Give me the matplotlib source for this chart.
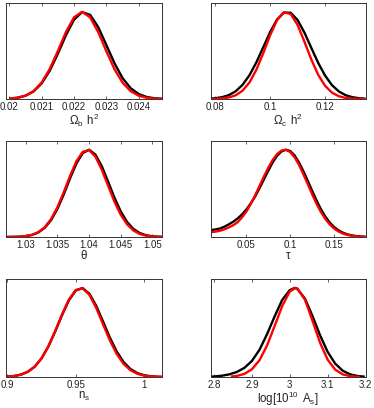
import matplotlib
matplotlib.use("Agg")
import matplotlib.pyplot as plt

plt.rcParams['font.family'] = ['Liberation Sans', 'DejaVu Sans']
plt.rcParams['mathtext.fontset'] = 'custom'
plt.rcParams['mathtext.rm'] = 'Liberation Sans'
plt.rcParams['mathtext.it'] = 'Liberation Sans'
plt.rcParams['mathtext.bf'] = 'Liberation Sans:bold'

# ---------------- data ----------------
# Omega_b h^2
omb_x = [0.02000, 0.02025, 0.02050, 0.02075, 0.02100, 0.02125, 0.02150, 0.02175, 0.02200, 0.02225,
         0.02250, 0.02275, 0.02300, 0.02325, 0.02350, 0.02375, 0.02400, 0.02425, 0.02450, 0.02474]
omb_black = [0.0047, 0.0140, 0.037, 0.086, 0.178, 0.323, 0.517, 0.730, 0.908, 0.996,
             0.964, 0.823, 0.619, 0.411, 0.240, 0.124, 0.0565, 0.0227, 0.0080, 0.0026]
omb_red = [0.0045, 0.0139, 0.038, 0.090, 0.188, 0.343, 0.548, 0.766, 0.935, 1.000,
           0.935, 0.766, 0.548, 0.343, 0.188, 0.090, 0.038, 0.0139, 0.0045, 0.0020]

# Omega_c h^2
omc_x = [0.0785, 0.0800, 0.0825, 0.0850, 0.0875, 0.0900, 0.0925, 0.0950, 0.0975, 0.1000, 0.1025, 0.1050,
         0.1075, 0.1100, 0.1125, 0.1150, 0.1175, 0.1200, 0.1225, 0.1250, 0.1275, 0.1300, 0.1325, 0.1347]
omc_black = [0.0049, 0.0087, 0.0205, 0.0446, 0.0889, 0.163, 0.273, 0.420, 0.592, 0.766, 0.910, 0.990,
             0.988, 0.905, 0.760, 0.585, 0.413, 0.268, 0.159, 0.0866, 0.0433, 0.0198, 0.0083, 0.0036]
omc_red = [0.0009, 0.0019, 0.0061, 0.0173, 0.043, 0.096, 0.190, 0.335, 0.524, 0.729, 0.903, 0.994,
           0.973, 0.848, 0.656, 0.452, 0.277, 0.151, 0.073, 0.0315, 0.0121, 0.0041, 0.0012, 0.0004]

# theta
th_x = [1.0270, 1.0280, 1.0290, 1.0300, 1.0310, 1.0320, 1.0330, 1.0340, 1.0350, 1.0360, 1.0370, 1.0380, 1.0390,
        1.0400, 1.0410, 1.0420, 1.0430, 1.0440, 1.0450, 1.0460, 1.0470, 1.0480, 1.0490, 1.0500, 1.0510, 1.0515]
th_black = [0.0004, 0.0012, 0.0036, 0.0097, 0.0235, 0.0521, 0.105, 0.192, 0.321, 0.487, 0.672, 0.843, 0.962,
            1.000, 0.944, 0.812, 0.634, 0.451, 0.292, 0.172, 0.0919, 0.0448, 0.0198, 0.0080, 0.0029, 0.0017]
th_red = [0.0004, 0.0013, 0.0037, 0.0101, 0.0248, 0.0553, 0.1117, 0.2047, 0.340, 0.513, 0.700, 0.868, 0.976,
          0.996, 0.921, 0.772, 0.588, 0.405, 0.254, 0.144, 0.0741, 0.0346, 0.0146, 0.0056, 0.0020, 0.0011]

# tau
tau_x = [0.0096, 0.015, 0.020, 0.025, 0.030, 0.035, 0.040, 0.045, 0.050, 0.055, 0.060, 0.065,
         0.070, 0.075, 0.080, 0.085, 0.090, 0.095, 0.100, 0.105, 0.110, 0.115, 0.120, 0.125,
         0.130, 0.135, 0.140, 0.145, 0.150, 0.155, 0.160, 0.165, 0.170, 0.175, 0.180, 0.186]
tau_black = [0.079, 0.087, 0.098, 0.118, 0.145, 0.175, 0.212, 0.258, 0.315, 0.385, 0.465, 0.560,
             0.660, 0.760, 0.855, 0.930, 0.980, 1.000, 0.985, 0.935, 0.855, 0.755, 0.645, 0.530,
             0.420, 0.320, 0.235, 0.167, 0.115, 0.077, 0.050, 0.031, 0.019, 0.011, 0.006, 0.003]
tau_red = [0.056, 0.062, 0.072, 0.088, 0.110, 0.135, 0.170, 0.225, 0.291, 0.379, 0.478, 0.585,
           0.693, 0.794, 0.882, 0.950, 0.990, 0.999, 0.974, 0.914, 0.828, 0.721, 0.607, 0.492,
           0.383, 0.288, 0.209, 0.146, 0.098, 0.064, 0.040, 0.024, 0.014, 0.0078, 0.0042, 0.0019]

# n_s
ns_x = [0.899, 0.905, 0.910, 0.915, 0.920, 0.925, 0.930, 0.935, 0.940, 0.945, 0.950, 0.955,
        0.960, 0.965, 0.970, 0.975, 0.980, 0.985, 0.990, 0.995, 1.000, 1.005, 1.010, 1.0131]
ns_black = [0.0036, 0.0115, 0.0273, 0.0592, 0.1166, 0.2095, 0.343, 0.511, 0.695, 0.860, 0.971, 0.998,
            0.935, 0.798, 0.621, 0.441, 0.285, 0.168, 0.0899, 0.0439, 0.0196, 0.0079, 0.0029, 0.0015]
ns_red = [0.0033, 0.0107, 0.026, 0.0573, 0.1148, 0.2087, 0.3446, 0.517, 0.703, 0.870, 0.977, 0.996,
          0.922, 0.775, 0.591, 0.410, 0.258, 0.147, 0.0765, 0.0361, 0.0154, 0.0060, 0.0021, 0.0010]

# log[10^10 A_s]
as_black_x = [2.792, 2.800, 2.820, 2.840, 2.860, 2.880, 2.900, 2.920, 2.940, 2.960, 2.980, 3.000, 3.013,
              3.020, 3.040, 3.060, 3.080, 3.100, 3.120, 3.140, 3.160, 3.180, 3.198]
as_black = [0.0035, 0.0060, 0.0140, 0.029, 0.056, 0.102, 0.180, 0.305, 0.480, 0.680, 0.865, 0.975, 1.000,
            0.990, 0.880, 0.685, 0.468, 0.282, 0.150, 0.0700, 0.0290, 0.0105, 0.0038]
as_red_x = [2.845, 2.860, 2.880, 2.900, 2.920, 2.940, 2.960, 2.980, 3.000, 3.015,
            3.020, 3.040, 3.060, 3.080, 3.100, 3.120, 3.140, 3.160, 3.180, 3.186]
as_red = [0.0048, 0.0118, 0.0344, 0.0866, 0.188, 0.353, 0.572, 0.797, 0.959, 1.000,
          0.994, 0.868, 0.632, 0.384, 0.195, 0.0825, 0.0291, 0.0086, 0.0021, 0.0013]

labels = [r'$\Omega_\mathrm{b}\;\,\mathrm{h}^2$', r'$\Omega_\mathrm{c}\;\,\mathrm{h}^2$', 'θ', 'τ',
          r'$\mathrm{n}_\mathrm{s}$', r'$\mathrm{log[10}^{10}\;\,\mathrm{A}_\mathrm{s}\mathrm{]}$']
ticks = [[0.020, 0.021, 0.022, 0.023, 0.024], [0.08, 0.10, 0.12], [1.03, 1.035, 1.04, 1.045, 1.05],
         [0.05, 0.10, 0.15], [0.90, 0.95, 1.00], [2.8, 2.9, 3.0, 3.1, 3.2]]
ticklabels = [['0.02', '0.021', '0.022', '0.023', '0.024'], ['0.08', '0.1', '0.12'],
              ['1.03', '1.035', '1.04', '1.045', '1.05'], ['0.05', '0.1', '0.15'],
              ['0.9', '0.95', '1'], ['2.8', '2.9', '3', '3.1', '3.2']]
xlims = [(0.01990, 0.02472), (0.0785, 0.1347), (1.0269, 1.0515), (0.0096, 0.186), (0.899, 1.0131), (2.792, 3.198)]

curves = [
    (omb_x, omb_black, omb_x, omb_red),
    (omc_x, omc_black, omc_x, omc_red),
    (th_x, th_black, th_x, th_red),
    (tau_x, tau_black, tau_x, tau_red),
    (ns_x, ns_black, ns_x, ns_red),
    (as_black_x, as_black, as_red_x, as_red),
]

# ---------------- layout ----------------
W, H = 374, 408
fig = plt.figure(figsize=(W / 100, H / 100), dpi=100)
cols = [(6, 162), (211, 365.5)]
rows = [(3, 99), (141, 237), (279, 377)]

for i in range(6):
    r, c = divmod(i, 2)
    x0, x1 = cols[c]
    y0, y1 = rows[r]
    ax = fig.add_axes([x0 / W, 1 - y1 / H, (x1 - x0) / W, (y1 - y0) / H])
    bx, by, rx, ry = curves[i]
    ax.plot(bx, by, color='black', lw=1.7, solid_capstyle='butt')
    ax.plot(rx, ry, color='#ff0000', lw=1.7, solid_capstyle='butt')
    ax.set_xlim(*xlims[i])
    ax.set_ylim(0, 1.1)
    ax.set_xticks(ticks[i])
    ax.set_xticklabels(ticklabels[i])
    ax.set_yticks([])
    ax.tick_params(axis='x', direction='in', top=True, bottom=True, length=2.5, width=0.5,
                   pad=2, labelsize=7.0, colors='#222222')
    for s in ax.spines.values():
        s.set_linewidth(0.7)
        s.set_color('#333333')
    ax.set_xlabel(labels[i], fontsize=8.3, labelpad=0.0, color='#222222')

fig.savefig('out.png', dpi=100)
